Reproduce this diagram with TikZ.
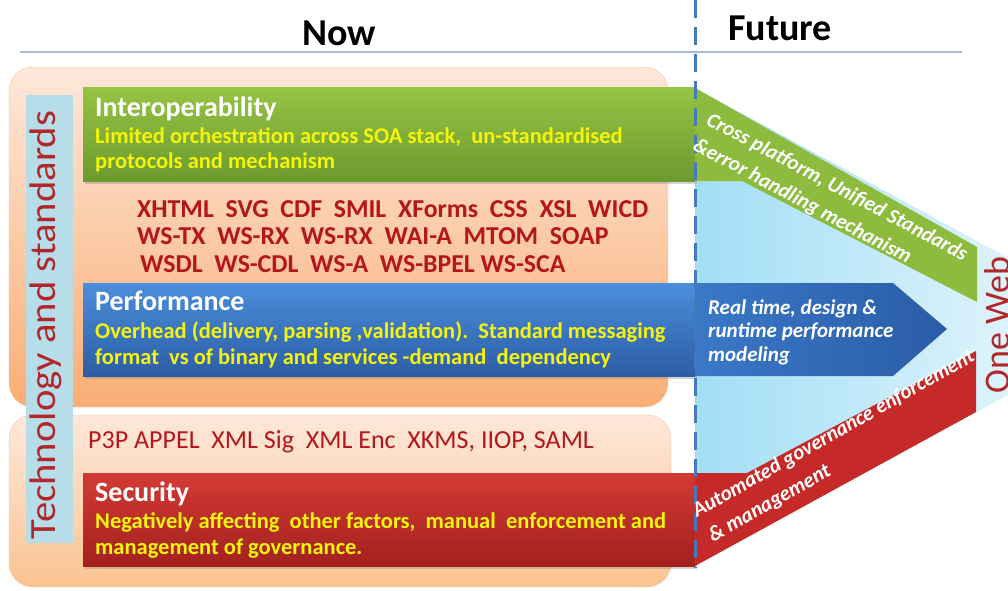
\documentclass[tikz,border=0pt]{standalone}
\usepackage{fontspec}
\setmainfont{Carlito}
\usetikzlibrary{shadows}
\definecolor{peachL}{HTML}{FDE8DA}
\definecolor{peachM}{HTML}{FCD4B6}
\definecolor{peachD}{HTML}{F9AE74}
\definecolor{peachE}{HTML}{F6C3A0}
\definecolor{peachB}{HTML}{FBC391}
\definecolor{barblue}{HTML}{B7DEE8}
\definecolor{grnT}{HTML}{96C444}
\definecolor{grnB}{HTML}{6C9A2E}
\definecolor{grnBand}{HTML}{8CBB3D}
\definecolor{bluT}{HTML}{4C8EDC}
\definecolor{bluB}{HTML}{2C5DA5}
\definecolor{bluA}{HTML}{3A78C8}
\definecolor{bluA2}{HTML}{2A5CA6}
\definecolor{redT}{HTML}{D33B34}
\definecolor{redB}{HTML}{A3201F}
\definecolor{redBand}{HTML}{C52A29}
\definecolor{yel}{HTML}{F4F50A}
\definecolor{techred}{HTML}{B5161C}
\definecolor{titred}{HTML}{B0282B}
\definecolor{skyL}{HTML}{A2DEF6}
\definecolor{skyR}{HTML}{DDF3FB}
\definecolor{dashblue}{HTML}{4479BE}
\definecolor{rule}{HTML}{A8B9DE}
\newcommand{\lines}[1]{\begin{tabular}[t]{@{}l@{}}#1\end{tabular}}
\tikzset{
  titletext/.style={font=\fontsize{28}{30}\selectfont\bfseries, text=white, anchor=base west, inner sep=0},
  yeltext/.style={font=\fontsize{22.5}{25}\selectfont\bfseries, text=yel, anchor=base west, inner sep=0},
  listtext/.style={font=\fontsize{25.8}{27.5}\selectfont\bfseries, text=techred, anchor=base west, inner sep=0},
  slanttext/.style={text=white, anchor=base west, inner sep=0},
  boxshadow/.style={drop shadow={opacity=0.35, shadow xshift=2pt, shadow yshift=-3pt}},
}
\begin{document}
\begin{tikzpicture}[x=1pt,y=-1pt]
\useasboundingbox (0,0) rectangle (1008,590);
\fill[white] (0,0) rectangle (1008,590);

% future region
\shade[left color=skyL, right color=skyR] (695,88) -- (1008,258) -- (1008,395) -- (695,565) -- cycle;

% peach boxes
\shade[top color=peachL, middle color=peachM, bottom color=peachD, rounded corners=24] (9,67) rectangle (668,407);
\draw[peachE, rounded corners=24] (9,67) rectangle (668,407);
\shade[top color=peachL, bottom color=peachB, rounded corners=24] (9,415) rectangle (671,587);
\draw[peachE, rounded corners=24] (9,415) rectangle (671,587);

% side bar
\fill[barblue] (26,95) rectangle (73,543);
\node[rotate=90, text=titred, font=\fontsize{37}{37}\selectfont, inner sep=0] (tech) at (46,325) {\scalebox{1.1}[1]{Technology and standards}};

% titles
\node[font=\fontsize{38}{40}\selectfont\bfseries, inner sep=0] (now) at (339,33) {Now};
\node[font=\fontsize{38}{40}\selectfont\bfseries, inner sep=0] (future) at (780,28) {Future};
\draw[rule, line width=1.5pt] (20,52) -- (962,52);

% interoperability
\path[top color=grnT, bottom color=grnB, boxshadow] (83,87) rectangle (695,181);
\fill[grnBand] (695,88) -- (977,247) -- (977,302) -- (742,181) -- (695,181) -- cycle;
\node[titletext] (iop) at (95,116) {Interoperability};
\node[yeltext] (iop1) at (95,143) {\lines{Limited orchestration across SOA stack,\ \ un-standardised\\ protocols and mechanism}};

% list
\node[listtext] (l1) at (137,217) {\lines{XHTML\ \ SVG\ \ CDF\ \ SMIL\ \ XForms\ \ CSS\ \ XSL\ \ WICD\\ WS-TX\ \ WS-RX\ \ WS-RX\ \ WAI-A\ \ MTOM\ \ SOAP\\ \hspace{3pt}WSDL\ \ WS-CDL\ \ WS-A\ \ WS-BPEL WS-SCA}};

% performance
\path[top color=bluT, bottom color=bluB, boxshadow] (83,283) rectangle (695,376);
\shade[left color=bluA, right color=bluA2] (695,283) -- (893,283) -- (947,329) -- (893,376) -- (695,376) -- cycle;
\node[titletext] (perf) at (95,310) {Performance};
\node[yeltext, font=\fontsize{22.5}{26}\selectfont\bfseries] (perf1) at (95,338) {\lines{Overhead (delivery, parsing ,validation).\ \ Standard messaging\\ format\ \ vs of binary and services -demand\ \ dependency}};

% security list
\node[font=\fontsize{26}{28}\selectfont, text=techred, anchor=base west, inner sep=0] (sec0) at (88,448) {P3P APPEL\ \ XML Sig\ \ XML Enc\ \ XKMS, IIOP, SAML};

% security
\path[top color=redT, bottom color=redB, boxshadow] (83,473) rectangle (695,566);
\fill[redBand] (695,473) -- (747,473) -- (976,351) -- (976,412) -- (695,566) -- cycle;
\node[titletext] (sec) at (95,501) {Security};
\node[yeltext, font=\fontsize{22.5}{26}\selectfont\bfseries] (sec1) at (95,528) {\lines{Negatively affecting\ \ other factors,\ \ manual\ \ enforcement and\\ management of governance.}};

% dashed divider
\draw[dashblue, line width=3pt, dash pattern=on 18pt off 9pt] (695,0) -- (695,568);

% future texts
\node[slanttext, rotate=-28, font=\fontsize{21}{28.5}\selectfont\bfseries\itshape] (gb) at (705,124) {\lines{Cross platform, Unified Standards\\ \&error handling mechanism}};
\node[slanttext, font=\fontsize{21}{23.5}\selectfont\bfseries\itshape] (pb) at (708,314) {\lines{Real time, design \&\\ runtime performance\\ modeling}};
\node[slanttext, rotate=29.5, font=\fontsize{21}{29}\selectfont\bfseries\itshape] (rb) at (697,518) {\lines{Automated governance enforcement\\ \hspace{2pt}\& management}};
\node[rotate=90, text=titred, font=\fontsize{36}{36}\selectfont, inner sep=0] (oneweb) at (997,325) {One Web};
\end{tikzpicture}
\end{document}
